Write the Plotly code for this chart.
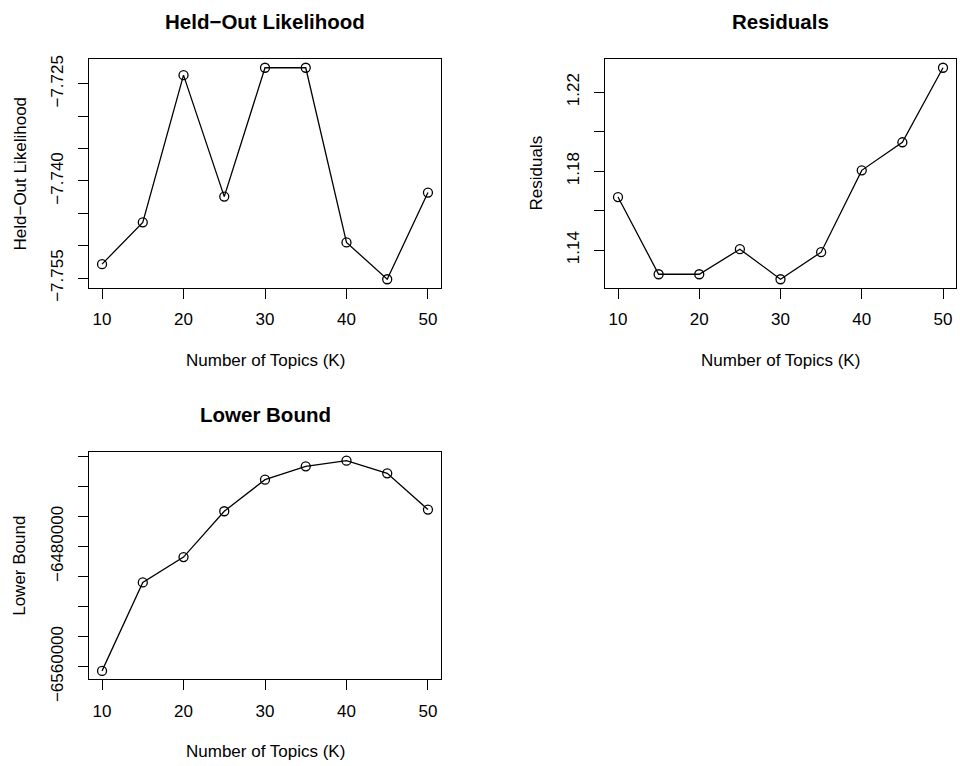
import plotly.graph_objects as go

# ---- data ----
K = [10, 15, 20, 25, 30, 35, 40, 45, 50]
heldout = [-7.75284, -7.74639, -7.72366, -7.74241, -7.72252, -7.72252, -7.74948, -7.75517, -7.74179]
residuals = [1.16689, 1.12782, 1.12782, 1.14051, 1.12529, 1.13899, 1.18042, 1.19463, 1.23235]
lbound = [-6562879, -6503920, -6487087, -6456523, -6435482, -6426622, -6422857, -6431274, -6455415]

x_ticks = [10, 20, 30, 40, 50]
x_ticklabels = ["10", "20", "30", "40", "50"]
heldout_ticks = [-7.755, -7.750, -7.745, -7.740, -7.735, -7.730, -7.725]
heldout_ticklabels = ["−7.755", "", "", "−7.740", "", "", "−7.725"]
resid_ticks = [1.14, 1.16, 1.18, 1.20, 1.22]
resid_ticklabels = ["1.14", "", "1.18", "", "1.22"]
lb_ticks = [-6560000, -6540000, -6520000, -6500000, -6480000, -6460000, -6440000, -6420000]
lb_ticklabels = ["−6560000", "", "", "", "−6480000", "", "", ""]

titles = ["Held−Out Likelihood", "Residuals", "Lower Bound"]
ylabels = ["Held−Out Likelihood", "Residuals", "Lower Bound"]
xlabel = "Number of Topics (K)"

W, H = 960, 766
FONT = "Liberation Sans, Arial, Helvetica, sans-serif"
FS = 17
LW = 1.3


def rrange(v):
    lo, hi = min(v), max(v)
    d = (hi - lo) * 0.04
    return [lo - d, hi + d]


boxes = [(89, 441, 59.3, 287.7), (605, 956, 59.3, 287.7), (89, 441, 452.3, 679.3)]
series = [heldout, residuals, lbound]
yticks = [(heldout_ticks, heldout_ticklabels), (resid_ticks, resid_ticklabels), (lb_ticks, lb_ticklabels)]

fig = go.Figure()
layout = dict(width=W, height=H, autosize=False, margin=dict(l=0, r=0, t=0, b=0, pad=0),
              paper_bgcolor="white", plot_bgcolor="white", showlegend=False, template="none",
              font=dict(family=FONT, size=FS, color="black"))
annotations = []

for i, (ys, box, (tv, tt)) in enumerate(zip(series, boxes, yticks)):
    n = "" if i == 0 else str(i + 1)
    fig.add_trace(go.Scatter(x=K, y=ys, mode="lines+markers",
                             line=dict(color="black", width=LW),
                             marker=dict(symbol="circle-open", size=9, color="black",
                                         line=dict(width=LW, color="black")),
                             xaxis="x" + n, yaxis="y" + n))
    l, r, t, b = box
    common = dict(showline=True, mirror=True, linecolor="black", linewidth=LW,
                  ticks="outside", ticklen=10, tickwidth=LW, tickcolor="black", automargin=False,
                  showgrid=False, zeroline=False, tickfont=dict(family=FONT, size=FS, color="black"))
    layout["xaxis" + n] = dict(domain=[l / W, r / W], anchor="y" + n, range=[8.4, 51.6],
                               tickmode="array", tickvals=x_ticks, ticktext=x_ticklabels,
                               ticklabelstandoff=6, **common)
    layout["yaxis" + n] = dict(domain=[1 - b / H, 1 - t / H], anchor="x" + n, range=rrange(ys),
                               tickmode="array", tickvals=tv, ticktext=tt, tickangle=-90,
                               ticklabelstandoff=8, **common)
    cx = (l + r) / 2
    cy = (t + b) / 2
    annotations.append(dict(text="<b>" + titles[i] + "</b>", x=cx / W, y=1 - (t - 38) / H,
                            xref="paper", yref="paper", showarrow=False, xanchor="center", yanchor="middle",
                            font=dict(family=FONT, size=20.5, color="black")))
    annotations.append(dict(text=xlabel, x=cx / W, y=1 - (b + 72.5) / H,
                            xref="paper", yref="paper", showarrow=False, xanchor="center", yanchor="middle",
                            font=dict(family=FONT, size=FS, color="black")))
    annotations.append(dict(text=ylabels[i], x=(l - 69) / W, y=1 - cy / H, textangle=-90,
                            xref="paper", yref="paper", showarrow=False, xanchor="center", yanchor="middle",
                            font=dict(family=FONT, size=FS, color="black")))

layout["annotations"] = annotations
fig.update_layout(**layout)
fig.write_html("out.html")
